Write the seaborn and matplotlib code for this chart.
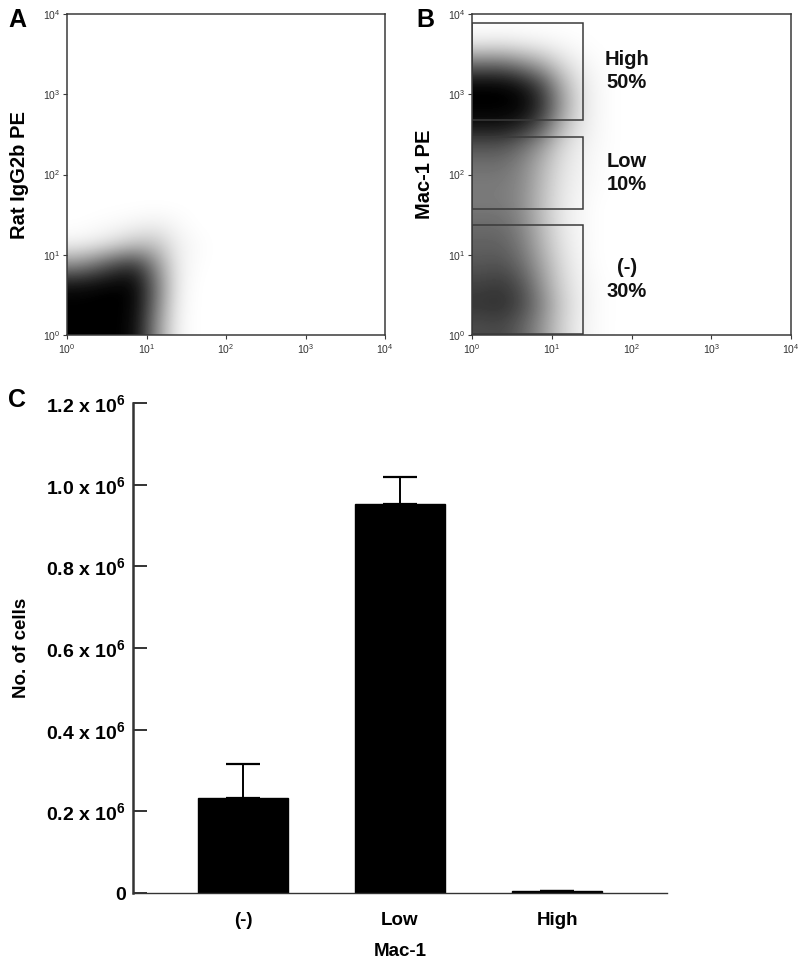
import numpy as np
import pandas as pd
import matplotlib
matplotlib.use("Agg")
import matplotlib.pyplot as plt
from matplotlib.patches import Rectangle
import seaborn as sns

# ---------------- data ----------------
# Panel C: cell counts per Mac-1 population
categories = ["(-)", "Low", "High"]
cells_mean = [0.233e6, 0.953e6, 0.005e6]
cells_err = [0.083e6, 0.066e6, 0.0]

# Flow cytometry dot-plot densities (darkness 0..1), cells of 0.25 decade,
# rows = PE axis from 10^0 upward, columns = x axis from 10^0 to 10^2
density_isotype = [
    [1.00, 1.00, 1.00, 0.95, 0.45, 0.05, 0.00, 0.00],
    [1.00, 1.00, 1.00, 0.97, 0.52, 0.06, 0.00, 0.00],
    [0.95, 0.98, 1.00, 0.97, 0.55, 0.08, 0.00, 0.00],
    [0.45, 0.58, 0.75, 0.80, 0.45, 0.08, 0.01, 0.00],
    [0.05, 0.08, 0.15, 0.24, 0.24, 0.07, 0.02, 0.00],
    [0.00, 0.01, 0.02, 0.04, 0.06, 0.03, 0.00, 0.00],
    [0.00, 0.00, 0.00, 0.00, 0.00, 0.00, 0.00, 0.00],
    [0.00, 0.00, 0.00, 0.00, 0.00, 0.00, 0.00, 0.00],
    [0.00, 0.00, 0.00, 0.00, 0.00, 0.00, 0.00, 0.00],
    [0.00, 0.00, 0.00, 0.00, 0.00, 0.00, 0.00, 0.00],
    [0.00, 0.00, 0.00, 0.00, 0.00, 0.00, 0.00, 0.00],
    [0.00, 0.00, 0.00, 0.00, 0.00, 0.00, 0.00, 0.00],
    [0.00, 0.00, 0.00, 0.00, 0.00, 0.00, 0.00, 0.00],
    [0.00, 0.00, 0.00, 0.00, 0.00, 0.00, 0.00, 0.00],
    [0.00, 0.00, 0.00, 0.00, 0.00, 0.00, 0.00, 0.00],
    [0.00, 0.00, 0.00, 0.00, 0.00, 0.00, 0.00, 0.00],
]
density_mac1 = [
    [0.70, 0.72, 0.62, 0.42, 0.18, 0.05, 0.01, 0.00],
    [0.80, 0.82, 0.72, 0.48, 0.20, 0.06, 0.01, 0.00],
    [0.75, 0.78, 0.68, 0.42, 0.17, 0.05, 0.01, 0.00],
    [0.66, 0.68, 0.58, 0.36, 0.14, 0.04, 0.00, 0.00],
    [0.62, 0.62, 0.52, 0.30, 0.11, 0.03, 0.00, 0.00],
    [0.58, 0.58, 0.48, 0.27, 0.09, 0.03, 0.00, 0.00],
    [0.52, 0.52, 0.45, 0.25, 0.09, 0.03, 0.00, 0.00],
    [0.52, 0.52, 0.46, 0.27, 0.10, 0.04, 0.01, 0.00],
    [0.56, 0.56, 0.48, 0.30, 0.12, 0.05, 0.01, 0.00],
    [0.68, 0.68, 0.58, 0.40, 0.16, 0.06, 0.02, 0.00],
    [0.95, 0.95, 0.88, 0.68, 0.30, 0.09, 0.02, 0.00],
    [1.00, 1.00, 1.00, 0.82, 0.40, 0.10, 0.02, 0.00],
    [1.00, 1.00, 0.92, 0.72, 0.33, 0.09, 0.02, 0.00],
    [0.58, 0.58, 0.48, 0.34, 0.15, 0.05, 0.01, 0.00],
    [0.08, 0.09, 0.07, 0.05, 0.03, 0.01, 0.00, 0.00],
    [0.00, 0.00, 0.00, 0.00, 0.00, 0.00, 0.00, 0.00],
]

# Gates in panel B (fluorescence units)
gate_names = ["High", "Low", "(-)"]
gate_pct = ["50%", "10%", "30%"]
gate_x_lo = [1.0, 1.0, 1.0]
gate_x_hi = [25.0, 24.5, 24.5]
gate_y_lo = [480.0, 37.0, 1.03]
gate_y_hi = [7800.0, 295.0, 23.5]

decade_ticks = [0, 1, 2, 3, 4]

# ---------------- style ----------------
sns.set_theme(style="white")
plt.rcParams["font.family"] = ["Liberation Sans", "DejaVu Sans"]
plt.rcParams["font.weight"] = "bold"
plt.rcParams["text.color"] = "black"
plt.rcParams["axes.labelcolor"] = "black"
plt.rcParams["xtick.color"] = "black"
plt.rcParams["ytick.color"] = "black"
plt.rcParams["mathtext.fontset"] = "custom"
plt.rcParams["mathtext.rm"] = "Liberation Sans"
plt.rcParams["mathtext.bf"] = "Liberation Sans:bold"
plt.rcParams["mathtext.it"] = "Liberation Sans:italic"

W, H = 800, 966
fig = plt.figure(figsize=(W / 100, H / 100), dpi=100)


def px_axes(l, t, r, b):
    return fig.add_axes([l / W, 1 - b / H, (r - l) / W, (b - t) / H])


frame_col = "#3a3a3a"


def flow_panel(ax, dens, ylabel):
    d = np.array(dens)
    ax.imshow(d, origin="lower", extent=(0, 2, 0, 4), cmap="gray_r",
              vmin=0, vmax=1, interpolation="bicubic", aspect="auto")
    ax.set_xlim(0, 4)
    ax.set_ylim(0, 4)
    ax.set_xticks(decade_ticks)
    ax.set_yticks(decade_ticks)
    labs = [r"$\mathregular{10^{%d}}$" % t for t in decade_ticks]
    ax.set_xticklabels(labs)
    ax.set_yticklabels(labs)
    ax.tick_params(axis="both", which="both", length=3, width=0.8,
                   color=frame_col, labelsize=7.5, labelcolor="#333333",
                   pad=2, direction="out", left=True, bottom=True)
    for s in ax.spines.values():
        s.set_visible(True)
        s.set_color(frame_col)
        s.set_linewidth(1.1)
    ax.set_ylabel(ylabel, fontsize=14.5, fontweight="bold", labelpad=10)
    ax.set_xlabel("")


axA = px_axes(67, 14, 385, 335)
flow_panel(axA, density_isotype, "Rat IgG2b PE")

axB = px_axes(472, 14, 791, 335)
flow_panel(axB, density_mac1, "Mac-1 PE")
for name, pct, xl, xh, yl, yh in zip(gate_names, gate_pct, gate_x_lo,
                                     gate_x_hi, gate_y_lo, gate_y_hi):
    lx0, lx1 = np.log10(xl), np.log10(xh)
    ly0, ly1 = np.log10(yl), np.log10(yh)
    axB.add_patch(Rectangle((lx0, ly0), lx1 - lx0, ly1 - ly0, fill=False,
                            edgecolor=frame_col, linewidth=1.1, zorder=3))
    axB.text(1.94, (ly0 + ly1) / 2, f"{name}\n{pct}", ha="center",
             va="center", fontsize=14.5, fontweight="bold",
             linespacing=1.3, color="#111111")

# ---------------- panel C ----------------
axC = px_axes(133, 403, 667, 893)
df = pd.DataFrame({"group": categories, "cells": cells_mean})
sns.barplot(data=df, x="group", y="cells", order=categories, color="black",
            width=0.57, errorbar=None, saturation=1, ax=axC)
for p in axC.patches:
    p.set_edgecolor("black")
axC.errorbar(x=np.arange(len(categories)), y=cells_mean,
             yerr=[np.zeros(len(cells_err)), cells_err], fmt="none",
             ecolor="black", elinewidth=1.4, capsize=12.5, capthick=1.6,
             zorder=5)
axC.set_xlim(-0.70, 2.70)
axC.set_ylim(0, 1.2e6)
yt = [0, 0.2e6, 0.4e6, 0.6e6, 0.8e6, 1.0e6, 1.2e6]
axC.set_yticks(yt)
axC.set_yticklabels(["0"] + [r"%.1f x 10$^{\mathbf{6}}$" % (v / 1e6)
                             for v in yt[1:]])
axC.tick_params(axis="y", direction="in", length=10, width=1.4,
                color="#333333", labelsize=14, pad=5, left=True,
                labelcolor="black")
axC.tick_params(axis="x", length=0, labelsize=13.5, pad=14,
                labelcolor="black")
sns.despine(ax=axC, top=True, right=True)
axC.spines["left"].set_linewidth(1.8)
axC.spines["left"].set_color("#333333")
axC.spines["bottom"].set_linewidth(1.0)
axC.spines["bottom"].set_color("#333333")
axC.set_ylabel("No. of cells", fontsize=13.5, fontweight="bold", labelpad=12)
axC.set_xlabel("Mac-1", fontsize=13.5, fontweight="bold", labelpad=10)
for lab in axC.get_xticklabels() + axC.get_yticklabels():
    lab.set_fontweight("bold")
for lab in axA.get_xticklabels() + axA.get_yticklabels() + \
        axB.get_xticklabels() + axB.get_yticklabels():
    lab.set_fontweight("normal")

# panel letters
fig.text(8 / W, 1 - 27 / H, "A", fontsize=18, fontweight="bold")
fig.text(416 / W, 1 - 27 / H, "B", fontsize=18, fontweight="bold")
fig.text(8 / W, 1 - 407 / H, "C", fontsize=18, fontweight="bold")

fig.savefig("out.png", dpi=100, facecolor="white")
